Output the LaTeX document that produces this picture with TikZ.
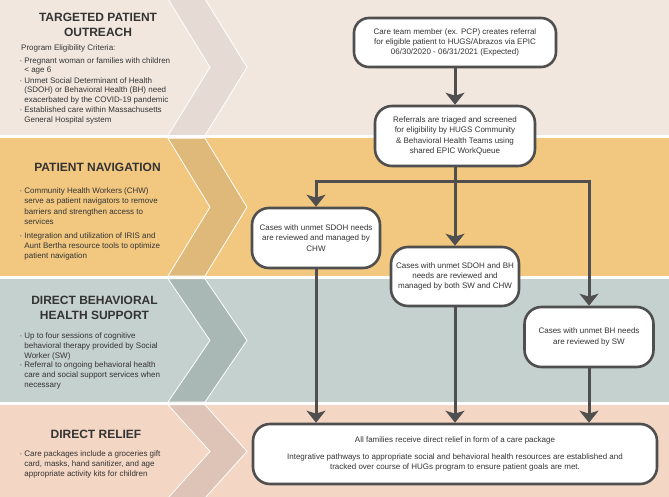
\documentclass[tikz,border=0pt]{standalone}
\usepackage{fontspec}
\setmainfont{Liberation Sans}
\usetikzlibrary{arrows.meta}
\definecolor{bandA}{HTML}{F2E7DE}
\definecolor{chevA}{HTML}{E5DBD4}
\definecolor{bandB}{HTML}{F2C880}
\definecolor{chevB}{HTML}{DEB97A}
\definecolor{bandC}{HTML}{C5D1CE}
\definecolor{chevC}{HTML}{A9B7B5}
\definecolor{bandD}{HTML}{F3D6C4}
\definecolor{chevD}{HTML}{DEC4B6}
\definecolor{linec}{HTML}{4F4F4F}
\definecolor{txt}{HTML}{333333}
\newcommand\bul[1]{\begin{tabular}[t]{@{}l@{\hspace{2pt}}l@{}}·&#1\end{tabular}}
\newcommand\hd[1]{\begin{tabular}[t]{@{}c@{}}#1\end{tabular}}
\newcommand\chev[3]{% top, bottom, color
  \fill[#3,draw=white,line width=0.8pt] (168,#1) -- (205,#1) -- (247,{(#1+#2)/2}) -- (205,#2) -- (168,#2) -- (210,{(#1+#2)/2}) -- cycle;}
\begin{document}
\begin{tikzpicture}[x=1pt,y=-1pt,
  head/.style={font=\bfseries\fontsize{12}{15}\selectfont, text=txt, inner sep=0, anchor=base},
  ltext/.style={font=\fontsize{8}{#1}\selectfont, text=txt, inner sep=0, anchor=base west},
  ltext/.default=9.6,
  flowbox/.style={draw=linec, line width=2.6pt, fill=white, rounded corners=17pt, align=center,
    font=\fontsize{8}{10.4}\selectfont, text=txt, inner sep=2pt},
  arr/.style={draw=linec, line width=3pt, line join=miter, -{Stealth[length=12pt,width=19pt,inset=3pt]}}]
\useasboundingbox (0,0) rectangle (669,497);
\fill[white] (0,0) rectangle (669,497);
% bands
\fill[bandA] (0,0) rectangle (669,135.5);
\fill[bandB] (0,138.3) rectangle (669,276);
\fill[bandC] (0,278.8) rectangle (669,402);
\fill[bandD] (0,404.8) rectangle (669,497);
\chev{-1}{135.5}{chevA}
\chev{138.3}{276}{chevB}
\chev{278.8}{402}{chevC}
\chev{404.8}{498}{chevD}
% left texts
\node[head] (h1) at (98,21.3) {\hd{TARGETED PATIENT\\OUTREACH}};
\node[ltext=9.4] (t1a) at (21,51) {Program Eligibility Criteria:};
\node[ltext=9.4] (t1b) at (19.5,63.5) {\bul{Pregnant woman or families with children\\&< age 6}};
\node[ltext=9.4] (t1c) at (19.5,83.5) {\bul{Unmet Social Determinant of Health\\&(SDOH) or Behavioral Health (BH) need\\&exacerbated by the COVID-19 pandemic}};
\node[ltext=9.4] (t1d) at (19.5,113) {\bul{Established care within Massachusetts\\&General Hospital system}};
\node[head] (h2) at (97.5,171.3) {\hd{PATIENT NAVIGATION}};
\node[ltext=10.3] (t2a) at (19.5,193.5) {\bul{Community Health Workers (CHW)\\&serve as patient navigators to remove\\&barriers and strengthen access to\\&services}};
\node[ltext=10.1] (t2b) at (19.5,238.5) {\bul{Integration and utilization of IRIS and\\&Aunt Bertha resource tools to optimize\\&patient navigation}};
\node[head] (h3) at (94.5,304.3) {\hd{DIRECT BEHAVIORAL\\HEALTH SUPPORT}};
\node[ltext=9.8] (t3a) at (19.5,338.5) {\bul{Up to four sessions of cognitive\\&behavioral therapy provided by Social\\&Worker (SW)}};
\node[ltext=9.8] (t3b) at (19.5,367.8) {\bul{Referral to ongoing behavioral health\\&care and social support services when\\&necessary}};
\node[head] (h4) at (96,438.3) {\hd{DIRECT RELIEF}};
\node[ltext=10.3] (t4a) at (19.5,456) {\bul{Care packages include a groceries gift\\&card, masks, hand sanitizer, and age\\&appropriate activity kits for children}};
% flow boxes
\node[flowbox, minimum width=202pt, minimum height=49pt, rounded corners=15pt] (b1) at (455,42.5)
  {Care team member (ex. PCP) creates referral\\for eligible patient to HUGS/Abrazos via EPIC\\06/30/2020 - 06/31/2021 (Expected)};
\node[flowbox, minimum width=160pt, minimum height=60pt] (b2) at (455,136)
  {Referrals are triaged and screened\\for eligibility by HUGS Community\\\& Behavioral Health Teams using\\shared EPIC WorkQueue};
\node[flowbox, minimum width=128pt, minimum height=60pt] (b3) at (316,238)
  {Cases with unmet SDOH needs\\are reviewed and managed by\\CHW};
\node[flowbox, minimum width=128pt, minimum height=59pt] (b4) at (455,276.5)
  {Cases with unmet SDOH and BH\\needs are reviewed and\\managed by both SW and CHW};
\node[flowbox, minimum width=129pt, minimum height=60pt] (b5) at (589,337)
  {Cases with unmet BH needs\\are reviewed by SW};
\node[flowbox, minimum width=404pt, minimum height=60pt] (b6) at (455,454)
  {All families receive direct relief in form of a care package\\[6pt]Integrative pathways to appropriate social and behavioral health resources are established and\\tracked over course of HUGs program to ensure patient goals are met.};
% connectors
\coordinate (jm) at (455,182);
\coordinate (jl) at (316,182);
\coordinate (jr) at (589,182);
\draw[arr] (b1) -- (b2);
\draw[arr] (b2) -- (b4);
\draw[arr] (jm) -- (jl) -- (b3.north);
\draw[arr] (jm) -- (jr) -- (b5.north);
\draw[arr] (b3.south) -- (b3.south |- b6.north);
\draw[arr] (b4.south) -- (b4.south |- b6.north);
\draw[arr] (b5.south) -- (b5.south |- b6.north);
\end{tikzpicture}
\end{document}
